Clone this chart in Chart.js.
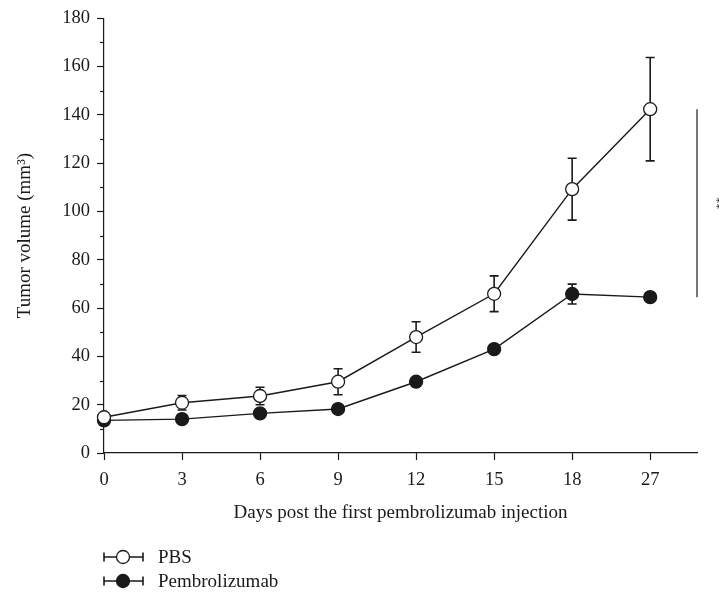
<!DOCTYPE html>
<html>
<head>
<meta charset="utf-8">
<script src="https://cdn.jsdelivr.net/npm/chart.js@4"></script>
<style>
  html, body { margin: 0; padding: 0; background: #fff; }
  #wrap { width: 719px; height: 597px; }
</style>
</head>
<body>
<div id="wrap"><canvas id="chart" width="719" height="597"></canvas></div>
<script>
// days shown on the x axis (equally spaced)
const days = ['0', '3', '6', '9', '12', '15', '18', '27'];

// mean tumour volume and error (mm3)
const pbsMean = [14.8, 20.8, 23.6, 29.5, 48.0, 65.9, 109.2, 142.3];
const pbsErr = [0.8, 3.0, 3.6, 5.4, 6.3, 7.4, 12.8, 21.4];
const pembroMean = [13.5, 14.0, 16.4, 18.2, 29.5, 43.0, 65.8, 64.5];
const pembroErr = [0.8, 1.2, 1.5, 1.5, 1.5, 1.5, 4.1, 1.5];

const yMin = 0, yMax = 180, yStep = 20;
const sigLabel = '**';

const font = 'Liberation Serif';
const ink = '#1a1a1a';

const toPoints = (arr) => arr.map((v, i) => ({ x: i, y: v }));

// error bars, drawn under the markers
const errorBars = {
    id: 'errorBars',
    beforeDatasetsDraw(chart) {
        const { ctx, scales: { x, y } } = chart;
        const errs = [pbsErr, pembroErr];
        ctx.save();
        ctx.strokeStyle = ink;
        ctx.lineWidth = 1.6;
        chart.data.datasets.forEach((ds, d) => {
            ds.data.forEach((p, i) => {
                const px = x.getPixelForValue(p.x);
                const top = y.getPixelForValue(p.y + errs[d][i]);
                const bot = y.getPixelForValue(p.y - errs[d][i]);
                ctx.beginPath();
                ctx.moveTo(px, top); ctx.lineTo(px, bot);
                ctx.moveTo(px - 4.5, top); ctx.lineTo(px + 4.5, top);
                ctx.moveTo(px - 4.5, bot); ctx.lineTo(px + 4.5, bot);
                ctx.stroke();
            });
        });
        ctx.restore();
    }
};

// minor ticks on y axis + significance bar + legend
const extras = {
    id: 'extras',
    afterDraw(chart) {
        const { ctx, chartArea, scales: { x, y } } = chart;
        ctx.save();
        ctx.strokeStyle = ink;
        ctx.lineWidth = 1.2;
        // minor ticks
        for (let v = yMin + yStep / 2; v < yMax; v += yStep) {
            const py = Math.round(y.getPixelForValue(v)) + 0.5;
            ctx.beginPath();
            ctx.moveTo(chartArea.left - 4, py);
            ctx.lineTo(chartArea.left, py);
            ctx.stroke();
        }
        // significance bar at last day
        const last = days.length - 1;
        const sx = chartArea.right;
        ctx.strokeStyle = '#555';
        ctx.lineWidth = 1.6;
        ctx.beginPath();
        ctx.moveTo(sx, y.getPixelForValue(pbsMean[last]));
        ctx.lineTo(sx, y.getPixelForValue(pembroMean[last]));
        ctx.stroke();
        const midY = (y.getPixelForValue(pbsMean[last]) + y.getPixelForValue(pembroMean[last])) / 2;
        ctx.save();
        ctx.translate(sx + 19, midY);
        ctx.rotate(Math.PI / 2);
        ctx.fillStyle = ink;
        ctx.font = '12px "' + font + '"';
        ctx.textAlign = 'center';
        ctx.textBaseline = 'middle';
        ctx.fillText(sigLabel, 0, 0);
        ctx.restore();

        // legend
        const rows = [557, 581];
        chart.data.datasets.forEach((ds, d) => {
            const ry = rows[d];
            const x0 = 104, x1 = 143, cx = 123;
            ctx.strokeStyle = ink;
            ctx.lineWidth = 1.6;
            ctx.beginPath();
            ctx.moveTo(x0, ry); ctx.lineTo(x1, ry);
            ctx.moveTo(x0, ry - 4.5); ctx.lineTo(x0, ry + 4.5);
            ctx.moveTo(x1, ry - 4.5); ctx.lineTo(x1, ry + 4.5);
            ctx.stroke();
            ctx.beginPath();
            ctx.arc(cx, ry, 6.5, 0, Math.PI * 2);
            ctx.fillStyle = ds.pointBackgroundColor;
            ctx.fill();
            ctx.lineWidth = 1.3;
            ctx.stroke();
            ctx.fillStyle = ink;
            ctx.font = '19px "' + font + '"';
            ctx.textAlign = 'left';
            ctx.textBaseline = 'middle';
            ctx.fillText(ds.label, 158, ry + 1);
        });
        ctx.restore();
    }
};

new Chart(document.getElementById('chart'), {
    type: 'line',
    data: {
        datasets: [
            {
                label: 'PBS',
                data: toPoints(pbsMean),
                borderColor: ink,
                borderWidth: 1.4,
                pointRadius: 6.5,
                pointBorderWidth: 1.3,
                pointBorderColor: ink,
                pointBackgroundColor: '#ffffff',
                clip: false,
                order: 1
            },
            {
                label: 'Pembrolizumab',
                data: toPoints(pembroMean),
                borderColor: ink,
                borderWidth: 1.4,
                pointRadius: 6.5,
                pointBorderWidth: 1.3,
                pointBorderColor: ink,
                pointBackgroundColor: ink,
                clip: false,
                order: 2
            }
        ]
    },
    options: {
        responsive: false,
        animation: false,
        events: [],
        layout: { padding: { top: 15, right: 22, left: 0, bottom: 73 } },
        plugins: {
            legend: { display: false },
            tooltip: { enabled: false }
        },
        scales: {
            x: {
                type: 'linear',
                min: 0,
                max: 7.6,
                afterBuildTicks: (scale) => {
                    scale.ticks = days.map((_, i) => ({ value: i }));
                },
                ticks: {
                    callback: (v) => days[v],
                    color: ink,
                    font: { family: font, size: 18.5 },
                    padding: 9,
                    maxRotation: 0
                },
                grid: { drawOnChartArea: false, tickLength: 7, tickColor: ink, tickWidth: 1.2 },
                border: { color: ink, width: 1.2 },
                title: {
                    display: true,
                    text: 'Days post the first pembrolizumab injection',
                    color: ink,
                    font: { family: font, size: 19 },
                    padding: { top: 1, bottom: 0 }
                }
            },
            y: {
                min: yMin,
                max: yMax,
                afterFit: (scale) => { scale.width = 104; },
                ticks: {
                    stepSize: yStep,
                    color: ink,
                    font: { family: font, size: 18.5 },
                    padding: 7
                },
                grid: { drawOnChartArea: false, tickLength: 7, tickColor: ink, tickWidth: 1.2 },
                border: { color: ink, width: 1.2 },
                title: {
                    display: true,
                    text: 'Tumor volume (mm³)',
                    color: ink,
                    font: { family: font, size: 19 },
                    padding: { top: 14, bottom: 0 }
                }
            }
        }
    },
    plugins: [errorBars, extras]
});
</script>
</body>
</html>
